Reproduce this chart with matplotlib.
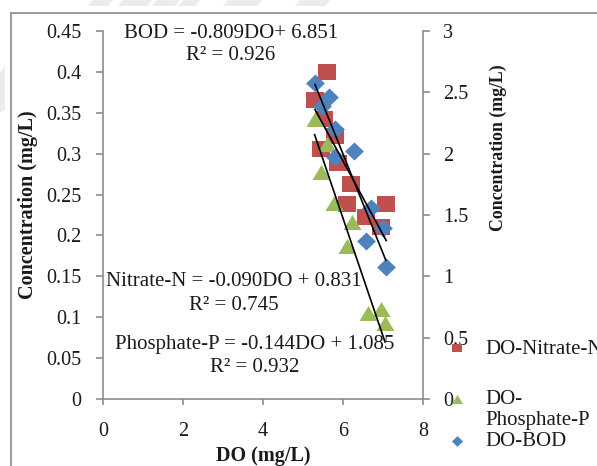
import matplotlib
matplotlib.use("Agg")
import matplotlib.pyplot as plt
from matplotlib.lines import Line2D
from matplotlib.patches import Polygon
import numpy as np

W, H = 597, 466
DPI = 100

# DO (mg/L) against Nitrate-N (mg/L), primary axis
do_nitrate = [5.60, 5.30, 5.52, 5.81, 5.44, 5.87, 6.20, 6.10, 7.08, 6.57, 6.94]
nitrate = [0.400, 0.366, 0.342, 0.322, 0.306, 0.288, 0.263, 0.238, 0.238, 0.222, 0.210]

# DO (mg/L) against Phosphate-P (mg/L), primary axis
do_phosphate = [5.29, 5.60, 5.44, 5.77, 6.23, 6.10, 6.62, 6.95, 7.05]
phosphate = [0.342, 0.312, 0.277, 0.240, 0.216, 0.187, 0.105, 0.110, 0.093]

# DO (mg/L) against BOD (mg/L), secondary axis
do_bod = [5.30, 5.65, 5.48, 5.81, 6.27, 5.80, 6.71, 7.00, 6.57, 7.07]
bod = [2.58, 2.46, 2.39, 2.20, 2.02, 1.97, 1.56, 1.39, 1.29, 1.08]

# linear trends: slope, intercept, R²
fit_nitrate = (-0.090, 0.831, 0.745)
fit_phosphate = (-0.144, 1.085, 0.932)
fit_bod = (-0.809, 6.851, 0.926)

x_ticks = [0, 2, 4, 6, 8]
left_ticks = [0, 0.05, 0.1, 0.15, 0.2, 0.25, 0.3, 0.35, 0.4, 0.45]
left_labels = ["0", "0.05", "0.1", "0.15", "0.2", "0.25", "0.3", "0.35", "0.4", "0.45"]
right_ticks = [0, 0.5, 1, 1.5, 2, 2.5, 3]
right_labels = ["0", "0.5", "1", "1.5", "2", "2.5", "3"]

RED, GREEN, BLUE = "#C0504D", "#9BBB59", "#4F81BD"
SPINE = "#8c8c8c"
TXT = "#1a1a1a"
plt.rcParams["font.family"] = ["Liberation Serif", "DejaVu Serif"]

# slightly wide marker outlines
SQUARE = [(-0.6, -0.5), (0.6, -0.5), (0.6, 0.5), (-0.6, 0.5), (-0.6, -0.5)]
TRIANGLE = [(-0.6, -0.5), (0.6, -0.5), (0.0, 0.5), (-0.6, -0.5)]
DIAMOND = [(0.0, -0.5), (0.52, 0.0), (0.0, 0.5), (-0.52, 0.0), (0.0, -0.5)]

FS_TEXT = 15
FS_TICK = 14.5


def fx(x):
    return x / W


def fy(y):
    return 1 - y / H


fig = plt.figure(figsize=(W / DPI, H / DPI), dpi=DPI)

# faint header shapes and outer frame
for x0, x1 in [(93, 113), (123, 152), (157, 180), (183, 200), (228, 262), (300, 330)]:
    fig.add_artist(Polygon([(fx(x0), fy(0)), (fx(x1), fy(0)), (fx(x1 - 5), fy(6)), (fx(x0 - 5), fy(6))],
                           closed=True, transform=fig.transFigure, facecolor="#e9edf0",
                           edgecolor="none"))
fig.add_artist(Polygon([(fx(0), fy(72)), (fx(5), fy(66)), (fx(5), fy(110)), (fx(0), fy(112))],
                       closed=True, transform=fig.transFigure, facecolor="#e9edf0", edgecolor="none"))
fig.add_artist(Line2D([fx(11), fx(11)], [fy(13), fy(H + 5)], transform=fig.transFigure,
                      color="#9a9a9a", lw=1.4))
fig.add_artist(Line2D([fx(11), fx(W + 5)], [fy(13), fy(13)], transform=fig.transFigure,
                      color="#9a9a9a", lw=1.4))

ax = fig.add_axes([fx(103), fy(399), fx(423) - fx(103), fy(31) - fy(399)])
ax.patch.set_alpha(0)
ax2 = ax.twinx()

ax.set_xlim(0, 8)
ax.set_ylim(0, 0.45)
ax2.set_ylim(0, 3)

for a in (ax, ax2):
    a.spines["top"].set_visible(False)
ax.spines["right"].set_visible(False)
ax2.spines["left"].set_visible(False)
ax2.spines["bottom"].set_visible(False)
for s in ("left", "bottom"):
    ax.spines[s].set_color(SPINE)
    ax.spines[s].set_linewidth(1.2)
ax2.spines["right"].set_color(SPINE)
ax2.spines["right"].set_linewidth(1.2)

ax.set_xticks(x_ticks)
ax.set_xticklabels([str(t) for t in x_ticks])
ax.set_yticks(left_ticks)
ax.set_yticklabels(left_labels)
ax2.set_yticks(right_ticks)
ax2.set_yticklabels(right_labels)

ax.tick_params(axis="x", direction="out", length=4.5, width=1.2, color=SPINE, pad=12,
               labelsize=FS_TICK, labelcolor=TXT)
ax.tick_params(axis="y", direction="out", length=4.8, width=1.2, color=SPINE, pad=10.5,
               labelsize=FS_TICK, labelcolor=TXT)
ax2.tick_params(axis="y", direction="out", length=5.2, width=1.2, color=SPINE, pad=9.5,
                labelsize=FS_TICK, labelcolor=TXT)

# scatter series
ax.plot(do_nitrate, nitrate, linestyle="none", marker=SQUARE, ms=13.5, color=RED,
        markeredgewidth=0, zorder=3)
ax.plot(do_phosphate, phosphate, linestyle="none", marker=TRIANGLE, ms=13, color=GREEN,
        markeredgewidth=0, zorder=3)
ax2.plot(do_bod, bod, linestyle="none", marker=DIAMOND, ms=13.5, color=BLUE,
         markeredgewidth=0, zorder=3)

# linear trend lines, drawn above every series
for xs_data, (m, b, _) in ((do_nitrate, fit_nitrate), (do_phosphate, fit_phosphate)):
    xs = np.array([min(xs_data), max(xs_data)])
    ax2.plot(xs, m * xs + b, color="black", lw=1.2, transform=ax.transData, zorder=5)
xs = np.array([min(do_bod), max(do_bod)])
m, b, _ = fit_bod
ax2.plot(xs, m * xs + b, color="black", lw=1.2, zorder=5)

# trend equations
labels = [
    (231, 33, 55, f"BOD = {fit_bod[0]:.3f}DO+ {fit_bod[1]:.3f}", fit_bod[2]),
    (234, 282, 305, f"Nitrate-N = {fit_nitrate[0]:.3f}DO + {fit_nitrate[1]:.3f}", fit_nitrate[2]),
    (255, 345, 367, f"Phosphate-P = {fit_phosphate[0]:.3f}DO + {fit_phosphate[1]:.3f}",
     fit_phosphate[2]),
]
for cx, y_eq, y_r2, eq, r2 in labels:
    fig.text(fx(cx), fy(y_eq), eq, ha="center", va="center", fontsize=FS_TEXT, color=TXT)
    fig.text(fx(cx), fy(y_r2), f"R² = {r2:.3f}", ha="center", va="center",
             fontsize=FS_TEXT, color=TXT)

# axis titles
fig.text(fx(263), fy(456), "DO (mg/L)", ha="center", va="center", fontsize=14.5,
         fontweight="bold", color=TXT)
fig.text(fx(28), fy(205), "Concentration (mg/L)", ha="center", va="center", rotation=90,
         fontsize=14.5, fontweight="bold", color=TXT)
fig.text(fx(498), fy(148), "Concentration (mg/L)", ha="center", va="center", rotation=90,
         fontsize=12.8, fontweight="bold", color=TXT)

# legend
leg = [(348, SQUARE, 7.5, RED, ["DO-Nitrate-N"]),
       (399, TRIANGLE, 8, GREEN, ["DO-", "Phosphate-P"]),
       (441, DIAMOND, 8, BLUE, ["DO-BOD"])]
for y, mk, ms, col, lines in leg:
    fig.add_artist(Line2D([fx(457)], [fy(y)], transform=fig.transFigure, marker=mk, ms=ms,
                          color=col, linestyle="none", markeredgewidth=0))
    for i, t in enumerate(lines):
        fig.text(fx(485), fy(y + 1 + 21 * i), t, ha="left", va="center", fontsize=FS_TEXT,
                 color=TXT)

fig.savefig("out.png", dpi=DPI)
